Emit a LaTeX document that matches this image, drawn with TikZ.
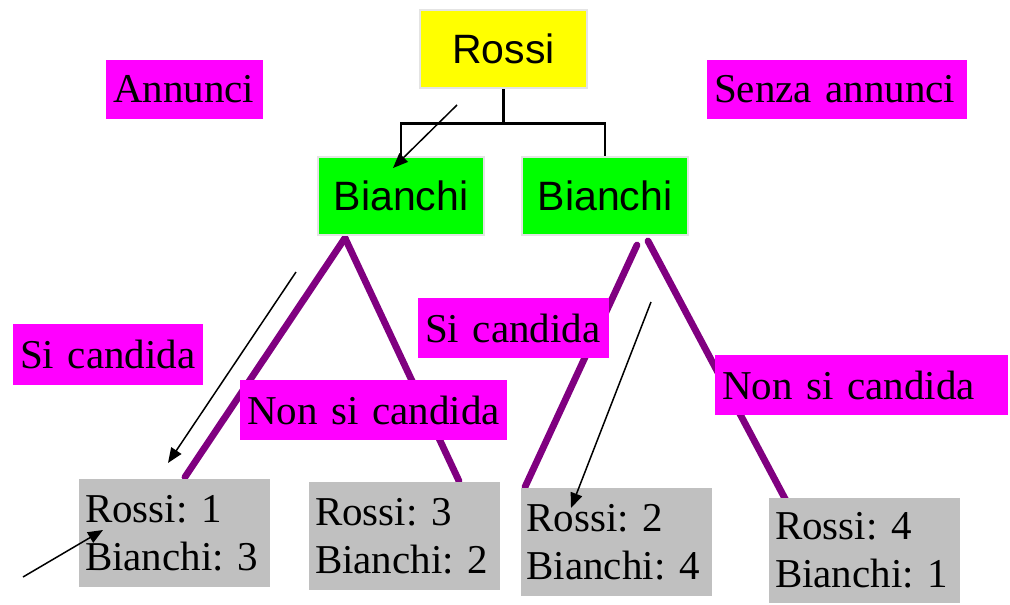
\documentclass[tikz,border=0pt]{standalone}
\usepackage{fontspec}
\setmainfont{Liberation Serif}
\setsansfont{Liberation Sans}
\usetikzlibrary{arrows.meta}
\definecolor{mag}{HTML}{FF00FF}
\definecolor{grn}{HTML}{00FF00}
\definecolor{yel}{HTML}{FFFF00}
\definecolor{gry}{HTML}{C0C0C0}
\definecolor{pur}{HTML}{800080}
\definecolor{edgegray}{HTML}{E4E4E4}
\begin{document}
\begin{tikzpicture}[x=1pt,y=-1pt,
  sansbox/.style={draw=edgegray,line width=2.5pt,inner sep=0pt,
    font=\sffamily\fontsize{41}{48}\selectfont},
  lab/.style={fill=mag,inner xsep=7pt,inner ysep=0pt,align=left,
    font=\rmfamily\fontsize{41}{48}\selectfont\frenchspacing},
  res/.style={fill=gry,inner xsep=6pt,inner ysep=0pt,align=left,
    text width=179pt,minimum height=108pt,
    font=\rmfamily\fontsize{41}{48}\selectfont\frenchspacing},
  branch/.style={draw=pur,line width=6.8pt,line cap=round},
  tree/.style={draw=black,line width=2.5pt},
  arr/.style={draw=black,line width=1.5pt,-{Triangle[length=15pt,width=12pt]}}
]
\useasboundingbox (0,0) rectangle (1010,605);

% branch coordinates
\coordinate (p1) at (345,238);
\coordinate (p1l) at (185,477);
\coordinate (p1r) at (459,481);
\coordinate (p2l) at (637,245);
\coordinate (p2le) at (525,487);
\coordinate (p2r) at (648,241);
\coordinate (p2re) at (790,508);

\draw[branch] (p1) -- (p1l);
\draw[branch] (p1) -- (p1r);
\draw[branch] (p2l) -- (p2le);
\draw[branch] (p2r) -- (p2re);

% top nodes
\node[sansbox,fill=yel,minimum width=167pt,minimum height=78pt] (rossi) at (503.5,49) {Rossi};
\node[sansbox,fill=grn,minimum width=166pt,minimum height=78pt] (b1) at (401,196) {Bianchi};
\node[sansbox,fill=grn,minimum width=166pt,minimum height=78pt] (b2) at (605,196) {Bianchi};

\draw[tree] (rossi.south) -- ++(0,34) coordinate (junc);
\draw[tree] (junc) -| (b1.north);
\draw[tree] (junc) -| (b2.north);

% labels
\node[lab,text width=143pt,minimum height=59pt] (ann) at (184.5,89.5) {Annunci};
\node[lab,text width=246pt,minimum height=59pt] (senza) at (837,89.5) {Senza annunci};
\node[lab,text width=176pt,minimum height=61pt] (si1) at (108,354.5) {Si candida};
\node[lab,text width=253pt,minimum height=60pt] (no1) at (373.5,410) {Non si candida};
\node[lab,text width=177pt,minimum height=60pt] (si2) at (513.5,328) {Si candida};
\node[lab,text width=279pt,minimum height=60pt] (no2) at (861.5,385) {Non si candida};

% results
\node[res] (r1) at (174.5,533) {Rossi: 1\\Bianchi: 3};
\node[res] (r2) at (404.5,536) {Rossi: 3\\Bianchi: 2};
\node[res] (r3) at (616,542) {Rossi: 2\\Bianchi: 4};
\node[res,minimum height=105pt] (r4) at (864.5,550.5) {Rossi: 4\\Bianchi: 1};

% arrows
\coordinate (a0s) at (457,105);
\coordinate (a0e) at (393,168);
\coordinate (a1s) at (296,272);
\coordinate (a1e) at (168,463);
\coordinate (a2s) at (651,302);
\coordinate (a2e) at (571,508);
\coordinate (a3s) at (23,577);
\coordinate (a3e) at (103,530);
\draw[arr] (a0s) -- (a0e);
\draw[arr] (a1s) -- (a1e);
\draw[arr] (a2s) -- (a2e);
\draw[arr] (a3s) -- (a3e);
\end{tikzpicture}
\end{document}
